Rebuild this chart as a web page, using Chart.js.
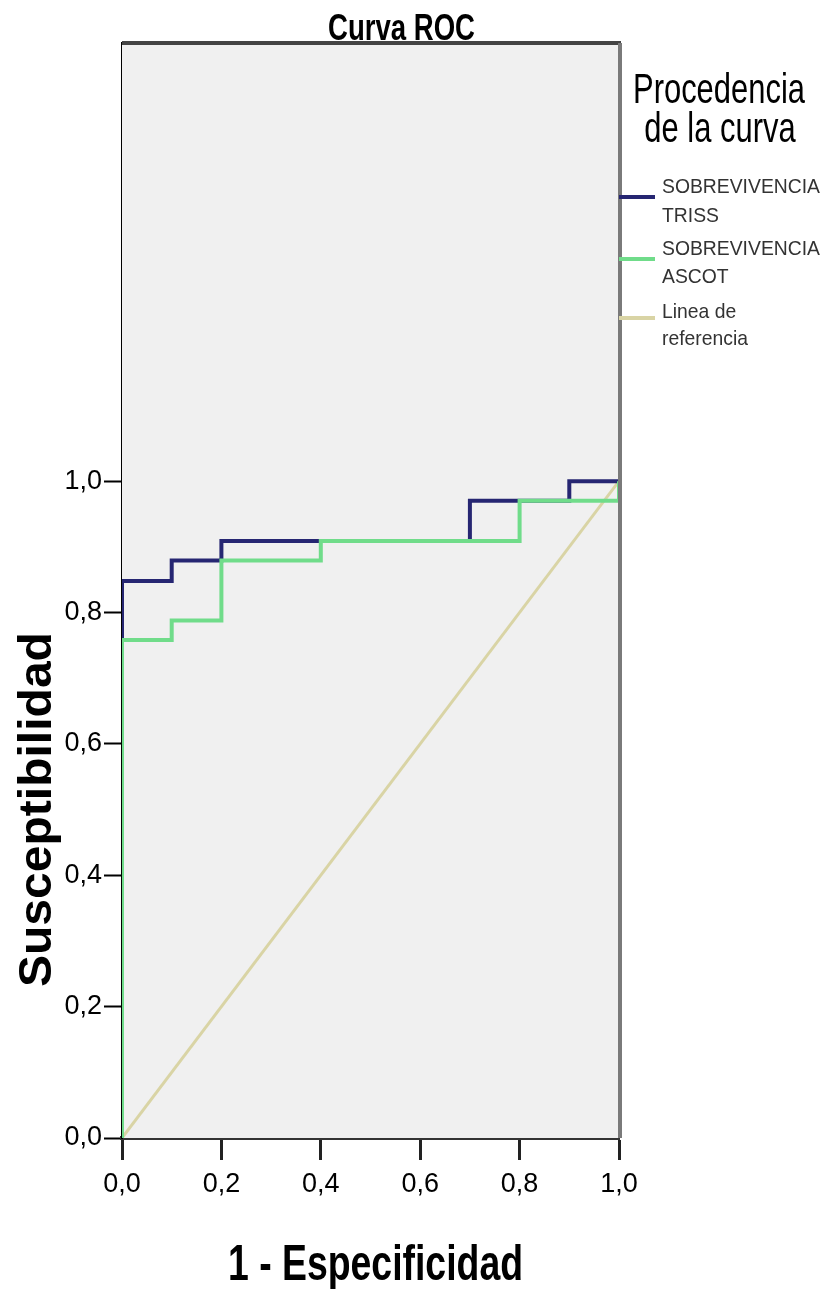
<!DOCTYPE html>
<html>
<head>
<meta charset="utf-8">
<script src="https://cdn.jsdelivr.net/npm/chart.js@4.4.1/dist/chart.umd.min.js"></script>
<style>
  html, body { margin: 0; background: #fff; }
  #wrap { width: 825px; height: 1289px; }
</style>
</head>
<body>
<div id="wrap"><canvas id="roc" width="825" height="1289"></canvas></div>
<script>
// ROC points (1 - especificidad, susceptibilidad)
const trissX = [0, 0, 0.1, 0.2, 0.7, 0.9, 1.0];
const trissY = [0, 0.848, 0.879, 0.909, 0.970, 1.0, 1.0];
const ascotX = [0, 0, 0.1, 0.2, 0.4, 0.8, 1.0];
const ascotY = [0, 0.758, 0.788, 0.879, 0.909, 0.970, 1.0];
const refX = [0, 1];
const refY = [0, 1];
const seriesNames = [['SOBREVIVENCIA', 'TRISS'], ['SOBREVIVENCIA', 'ASCOT'], ['Linea de', 'referencia']];
const xTicks = [0, 0.2, 0.4, 0.6, 0.8, 1.0];
const yTicks = [0, 0.2, 0.4, 0.6, 0.8, 1.0];

const FONT = '"Liberation Sans", Arial, sans-serif';
const toPoints = (xs, ys) => xs.map((x, i) => ({ x, y: ys[i] }));
const comma = v => v.toFixed(1).replace('.', ',');

// squeeze text horizontally so it looks like the narrow SPSS font
function squeeze(ctx, text, font, width) {
  ctx.font = font;
  return width / ctx.measureText(text).width;
}
function narrowText(ctx, text, x, y, sx, align) {
  ctx.save();
  ctx.translate(x, y);
  ctx.scale(sx, 1);
  ctx.textAlign = align || 'left';
  ctx.fillText(text, 0, 0);
  ctx.restore();
}

const frame = {
  id: 'frame',
  beforeDatasetsDraw(chart) {
    const { ctx, chartArea: a } = chart;
    ctx.save();
    ctx.fillStyle = '#f0f0f0';
    ctx.fillRect(a.left, a.top, a.right - a.left, a.bottom - a.top);
    ctx.restore();
  },
  afterDraw(chart) {
    const { ctx, chartArea: a, scales } = chart;
    ctx.save();
    // top and right border
    ctx.strokeStyle = '#444';
    ctx.lineWidth = 4;
    ctx.beginPath();
    ctx.moveTo(a.left, a.top);
    ctx.lineTo(a.right + 2, a.top);
    ctx.stroke();
    ctx.strokeStyle = '#7a7a7a';
    ctx.beginPath();
    ctx.moveTo(a.right + 1, a.top);
    ctx.lineTo(a.right + 1, a.bottom);
    ctx.stroke();

    ctx.fillStyle = '#000';
    ctx.textBaseline = 'alphabetic';

    // chart title
    let f = 'bold 36px ' + FONT;
    narrowText(ctx, 'Curva ROC', 328, 40, squeeze(ctx, 'Curva ROC', f, 147));

    // axis titles
    f = 'bold 50px ' + FONT;
    narrowText(ctx, '1 - Especificidad', 228, 1280, squeeze(ctx, '1 - Especificidad', f, 295));
    const y0 = scales.y.getPixelForValue(0);
    const y1 = scales.y.getPixelForValue(1);
    f = 'bold 46px ' + FONT;
    const sy = squeeze(ctx, 'Susceptibilidad', f, 355);
    ctx.save();
    ctx.translate(51, (y0 + y1) / 2);
    ctx.rotate(-Math.PI / 2);
    narrowText(ctx, 'Susceptibilidad', 0, 0, sy, 'center');
    ctx.restore();

    // legend
    f = '42px ' + FONT;
    const st = squeeze(ctx, 'Procedencia', f, 172);
    narrowText(ctx, 'Procedencia', 719, 103, st, 'center');
    narrowText(ctx, 'de la curva', 720, 142, st, 'center');

    const rows = [197, 259, 318];
    const baselines = [[193, 222], [255, 283], [318, 345]];
    f = '21px ' + FONT;
    const si = squeeze(ctx, 'SOBREVIVENCIA', f, 158);
    chart.data.datasets.forEach((ds, i) => {
      ctx.strokeStyle = ds.borderColor;
      ctx.lineWidth = 4;
      ctx.beginPath();
      ctx.moveTo(619, rows[i]);
      ctx.lineTo(655, rows[i]);
      ctx.stroke();
      ctx.fillStyle = '#333';
      seriesNames[i].forEach((line, j) => narrowText(ctx, line, 662, baselines[i][j], si));
    });
    ctx.restore();
  }
};

new Chart(document.getElementById('roc'), {
  type: 'line',
  data: {
    datasets: [
      { label: 'SOBREVIVENCIA TRISS', data: toPoints(trissX, trissY), borderColor: '#262672', borderWidth: 4, stepped: 'before', pointRadius: 0, order: 2 },
      { label: 'SOBREVIVENCIA ASCOT', data: toPoints(ascotX, ascotY), borderColor: '#70dc8a', borderWidth: 4, stepped: 'before', pointRadius: 0, order: 1 },
      { label: 'Linea de referencia', data: toPoints(refX, refY), borderColor: '#d9d4a5', borderWidth: 3, pointRadius: 0, order: 3 }
    ]
  },
  options: {
    responsive: false,
    animation: false,
    layout: { padding: { top: 43, right: 206, left: 0, bottom: 0 } },
    plugins: { legend: { display: false }, title: { display: false }, tooltip: { enabled: false } },
    scales: {
      x: {
        type: 'linear',
        min: 0,
        max: 1,
        afterFit: s => { s.height = 151; },
        afterBuildTicks: s => { s.ticks = xTicks.map(v => ({ value: v })); },
        grid: { drawOnChartArea: false, drawTicks: true, tickLength: 22, tickColor: '#222', tickWidth: 3 },
        border: { color: '#333', width: 4 },
        ticks: { callback: v => comma(v), color: '#000', padding: 8, maxRotation: 0, font: { family: FONT, size: 27 } }
      },
      y: {
        type: 'linear',
        min: 0,
        max: 1.667,
        afterFit: s => { s.width = 122; },
        afterBuildTicks: s => { s.ticks = yTicks.map(v => ({ value: v })); },
        grid: { drawOnChartArea: false, drawTicks: true, tickLength: 18, tickColor: '#000', tickWidth: 2 },
        border: { color: '#000', width: 2 },
        ticks: { callback: v => comma(v), color: '#000', padding: 2, font: { family: FONT, size: 27 } }
      }
    }
  },
  plugins: [frame]
});
</script>
</body>
</html>
